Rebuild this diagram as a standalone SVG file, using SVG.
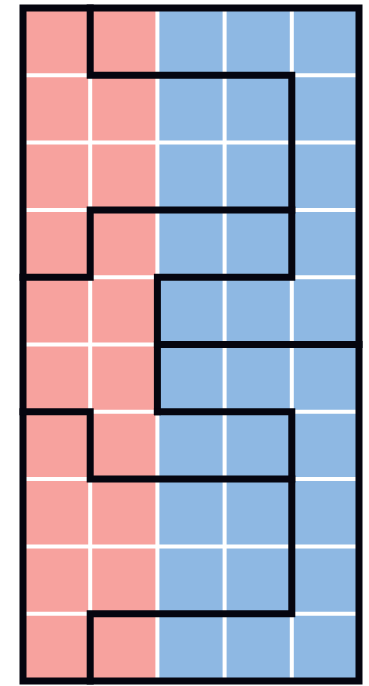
<svg xmlns="http://www.w3.org/2000/svg" width="369" height="686" viewBox="0 0 369 686">
<style>
.pink{fill:#F7A29E}
.blue{fill:#8EB8E3}
.grid{stroke:#FFFFFF;stroke-width:4;fill:none}
.wall{stroke:#05050F;stroke-width:7;fill:none;stroke-linecap:square;stroke-linejoin:miter}
</style>
<rect width="369" height="686" fill="#FFFFFF"/>
<g id="fill">
<rect class="pink" x="23" y="8" width="134.4" height="673"/>
<rect class="blue" x="157.4" y="8" width="201.6" height="673"/>
</g>
<g id="gridlines" class="grid">
<path d="M90.2 8V681M157.4 8V681M224.6 8V681M291.8 8V681"/>
<path d="M23 75.3H359M23 142.6H359M23 209.9H359M23 277.2H359M23 344.5H359M23 411.8H359M23 479.1H359M23 546.4H359M23 613.7H359"/>
</g>
<g id="walls" class="wall">
<rect x="23" y="8" width="336" height="673"/>
<path d="M90.2 8V75.3H291.8V277.2H157.4V411.8"/>
<path d="M23 277.2H90.2V209.9H291.8"/>
<path d="M157.4 344.5H359"/>
<path d="M157.4 411.8H291.8V613.7H90.2V681"/>
<path d="M23 411.8H90.2V479.1H291.8"/>
</g>
</svg>
